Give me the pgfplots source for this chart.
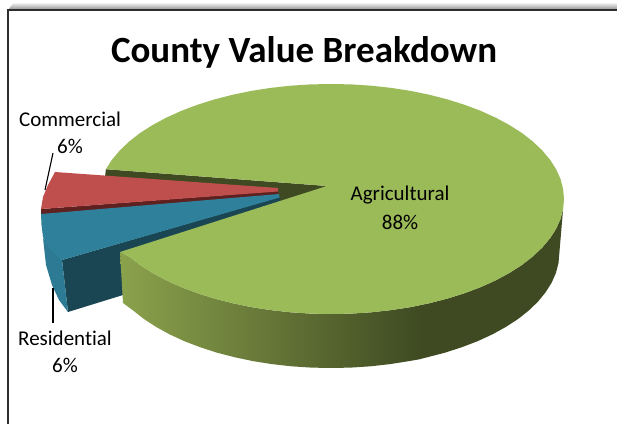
\documentclass[border=0pt]{standalone}
\usepackage{pgfplots}
\pgfplotsset{compat=1.18}
\usepackage{fontspec}
\setmainfont[Ligatures=NoCommon]{Carlito}
\definecolor{agritop}{HTML}{9BBB59}
\definecolor{agrinotch}{HTML}{3F4A22}
\definecolor{agriA}{HTML}{8BA24C}
\definecolor{agriB}{HTML}{6B7D38}
\definecolor{commtop}{HTML}{BE4F4C}
\definecolor{commwall}{HTML}{5E2120}
\definecolor{restop}{HTML}{2F819B}
\definecolor{resside}{HTML}{2C7A93}
\definecolor{reswall}{HTML}{1A4653}
\definecolor{frameline}{HTML}{2E2E2E}
\begin{document}
\begin{tikzpicture}
\begin{axis}[
  scale only axis, width=617bp, height=424bp,
  xmin=0, xmax=617, ymin=0, ymax=424, y dir=reverse,
  hide axis, clip=true]
% page background
\addplot[draw=none, fill=white, mark=none] coordinates {(0,0)(617,0)(617,424)(0,424)} --cycle;
% shadow and border of the chart area
\addplot[draw=none, top color=white, bottom color=black!45, mark=none] coordinates {(14,2)(617,2)(617,10)(8,10)} --cycle;
\addplot[frameline, line width=2.2bp, mark=none] coordinates {(8,424)(8,10)(617,10)};
% notch wall of the agricultural slice
\addplot[draw=none, fill=agrinotch, mark=none] coordinates {(327,186)(105.9,169.2)(105,177)(200,190)(280,203)} --cycle;
% commercial slice
\addplot[draw=none, fill=commwall, mark=none] coordinates {(41,209)(278,191)(278.5,195)(41,214.5)} --cycle;
\addplot[draw=none, fill=commtop, mark=none] coordinates {(278,188)(55,172)(48,185)(43,197)(41,209)(278,191.5)} --cycle;
% residential slice
\addplot[draw=none, fill=reswall, mark=none] coordinates {(62,260)(279.5,197)(281,203)(121,254)(123,295)(68,312)} --cycle;
\addplot[draw=none, fill=resside, mark=none] coordinates {(43,238)(46,265)(52,285)(59,300)(68,312)(62,260)} --cycle;
\addplot[draw=none, fill=restop, mark=none] coordinates {(279,194)(41,214)(41.5,225)(43,237)(50,249)(62,260)(279.5,197.5)} --cycle;
% outer wall of the agricultural slice
\addplot[draw=none, left color=agriA, middle color=agriB, right color=agrinotch, mark=none] coordinates {
 (120,252)(129.2,256.5)(140.1,265.0)(152.5,272.9)(166.2,280.3)(181.2,287.1)(197.4,293.2)(214.5,298.6)
 (232.5,303.2)(251.3,307.1)(270.7,310.1)(290.6,312.3)(310.7,313.6)(331,314)(351.3,313.6)(371.4,312.3)
 (391.3,310.1)(410.7,307.1)(420,305.2)(420,359.2)(409.1,361.1)(390.1,364.1)(370.6,366.3)(350.9,367.6)
 (331,368)(311.1,367.6)(291.4,366.3)(271.9,364.1)(252.9,361.1)(234.5,357.2)(216.8,352.6)(200.1,347.2)
 (184.2,341.1)(169.5,334.3)(156.1,326.9)(143.9,319.0)(133.2,310.5)(123,303)} --cycle;
\addplot[draw=none, fill=agrinotch, mark=none] coordinates {
 (419.5,305.2)(429.5,303.2)(447.5,298.6)(464.6,293.2)(480.8,287.1)(495.8,280.3)(509.5,272.9)(521.9,265.0)
 (532.8,256.5)(542.2,247.6)(550.0,238.3)(556.1,228.8)(560.5,219.0)(563.1,209.0)
 (558.5,263.0)(555.9,273.0)(551.6,282.8)(545.6,292.3)(538.0,301.6)(528.8,310.5)(518.1,319.0)(505.9,326.9)
 (492.5,334.3)(477.8,341.1)(461.9,347.2)(445.2,352.6)(427.5,357.2)(419.5,359.2)} --cycle;
% top of the agricultural slice
\addplot[draw=none, fill=agritop, mark=none] coordinates {
 (327,186)(105.9,169.2)(112.0,159.7)(119.8,150.4)(129.2,141.5)(140.1,133.0)(152.5,125.1)(166.2,117.7)
 (181.2,110.9)(197.4,104.8)(214.5,99.4)(232.5,94.8)(251.3,90.9)(270.7,87.9)(290.6,85.7)(310.7,84.4)
 (331,84)(351.3,84.4)(371.4,85.7)(391.3,87.9)(410.7,90.9)(429.5,94.8)(447.5,99.4)(464.6,104.8)
 (480.8,110.9)(495.8,117.7)(509.5,125.1)(521.9,133.0)(532.8,141.5)(542.2,150.4)(550.0,159.7)(556.1,169.2)
 (560.5,179.0)(563.1,189.0)(564,199)(563.1,209.0)(560.5,219.0)(556.1,228.8)(550.0,238.3)(542.2,247.6)
 (532.8,256.5)(521.9,265.0)(509.5,272.9)(495.8,280.3)(480.8,287.1)(464.6,293.2)(447.5,298.6)(429.5,303.2)
 (410.7,307.1)(391.3,310.1)(371.4,312.3)(351.3,313.6)(331,314)(310.7,313.6)(290.6,312.3)(270.7,310.1)
 (251.3,307.1)(232.5,303.2)(214.5,298.6)(197.4,293.2)(181.2,287.1)(166.2,280.3)(152.5,272.9)(140.1,265.0)
 (129.2,256.5)(120,252)} --cycle;
% leader lines
\addplot[black, line width=1.1bp, mark=none] coordinates {(45,190)(53,153)};
\addplot[black, line width=1.1bp, mark=none] coordinates {(53,288)(53,323)};
% texts
\node[font=\fontsize{37bp}{42bp}\selectfont\bfseries] at (axis cs:304,52) {County Value Breakdown};
\node[font=\fontsize{21bp}{24bp}\selectfont] at (axis cs:70,119) {Commercial};
\node[font=\fontsize{21bp}{24bp}\selectfont] at (axis cs:70,146) {6\%};
\node[font=\fontsize{21bp}{24bp}\selectfont] at (axis cs:65,338) {Residential};
\node[font=\fontsize{21bp}{24bp}\selectfont] at (axis cs:65,365) {6\%};
\node[font=\fontsize{21bp}{24bp}\selectfont] at (axis cs:400,195) {Agricultural};
\node[font=\fontsize{21bp}{24bp}\selectfont] at (axis cs:400,222) {88\%};
\end{axis}
\end{tikzpicture}
\end{document}
